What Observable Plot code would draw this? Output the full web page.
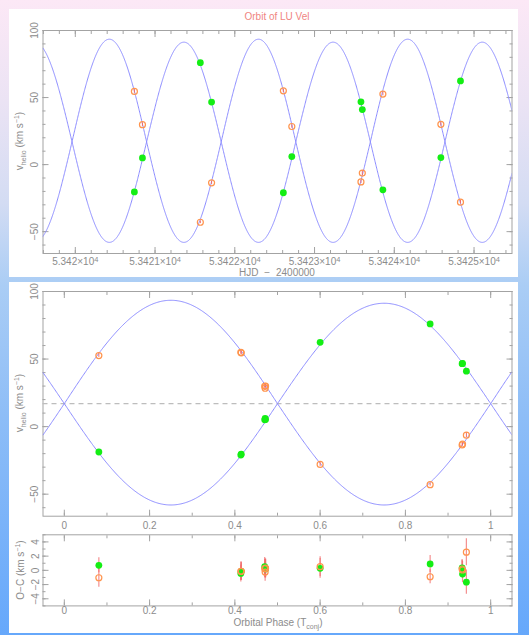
<!DOCTYPE html>
<html>
<head>
<meta charset="utf-8">
<script src="https://cdn.jsdelivr.net/npm/d3@7"></script>
<script src="https://cdn.jsdelivr.net/npm/@observablehq/plot@0.6"></script>
<style>
html,body{margin:0;padding:0;}
body{width:529px;height:635px;position:relative;overflow:hidden;
  background:linear-gradient(to bottom,#fce8f6 0%,#ebe3f4 16%,#d3dcf3 32%,#aacdf5 45%,#8dbdf7 66%,#66a8fb 100%);
  font-family:"Liberation Sans",Arial,sans-serif;}
.panel{position:absolute;background:#fff;}
.plot{position:absolute;left:0;}
.lbl{position:absolute;color:#8c8c8c;font-size:10px;white-space:nowrap;line-height:1;transform:translate(-50%,-50%);}
.rot{transform:translate(-50%,-50%) rotate(-90deg);}
sub,sup{font-size:7px;line-height:0;}
</style>
</head>
<body>
<div class="panel" style="left:9px;top:9px;width:509px;height:268px"></div>
<div class="panel" style="left:9px;top:282px;width:509px;height:351px"></div>
<div id="p1" class="plot" style="top:0px"></div>
<div id="p2" class="plot" style="top:283px"></div>
<div id="p3" class="plot" style="top:520px"></div>

<div class="lbl" style="left:277px;top:17px;color:#f0857f">Orbit of LU Vel</div>
<div class="lbl" style="left:277px;top:272.5px;word-spacing:3px">HJD − 2400000</div>
<div class="lbl rot" style="left:20px;top:141px">v<sub>helio</sub> (km s<sup>−1</sup>)</div>
<div class="lbl rot" style="left:20px;top:403px">v<sub>helio</sub> (km s<sup>−1</sup>)</div>
<div class="lbl rot" style="left:21px;top:570px">O−C (km s<sup>−1</sup>)</div>
<div class="lbl" style="left:278px;top:622.5px">Orbital Phase (T<sub>conj</sub>)</div>

<script>
const hjd      = [53420.741, 53420.842, 53421.568, 53421.709, 53422.609, 53422.715, 53423.582, 53423.599, 53423.857, 53424.584, 53424.830];
const phase    = [0.415, 0.470, 0.858, 0.933, 0.414, 0.471, 0.934, 0.943, 0.081, 0.472, 0.600];
const vOrange  = [54.6, 29.8, -43.0, -13.6, 55.0, 28.4, -12.9, -6.3, 52.6, 30.0, -28.0];
const vGreen   = [-20.4, 5.0, 76.0, 46.6, -21.0, 6.0, 46.8, 41.0, -18.8, 5.2, 62.4];
const ocOrange = [-0.14, 0.24, -0.90, 0.19, -0.14, -0.24, 0.05, 2.56, -1.04, 0.30, 0.52];
const ocGreen  = [-0.14, 0.52, 0.90, 0.34, -0.43, 0.30, -0.52, -1.66, 0.71, 0.20, 0.28];
const errOrange = [1.3, 1.3, 1.0, 1.2, 1.3, 1.3, 1.2, 1.9, 1.35, 1.3, 1.4];
const errGreen  = [1.2, 1.3, 1.2, 1.2, 1.2, 1.3, 1.2, 1.7, 1.05, 1.3, 1.4];

// ---- fitted orbit ----
const gamma = [17];
const period = [1.8705];
const tConj = [53419.959];
const ampOrange = [76.5, 75];   // toward maximum, toward minimum
const ampGreen  = [74.3, 75];

// ---- axes ----
const hjdDomain = [53419.595, 53425.476];
const vDomain = [-66.3, 100];
const phaseDomain = [-0.05, 1.05];
const ocDomain = [-5, 5];
const hjdMajor = [53420, 53421, 53422, 53423, 53424, 53425];
const vMajor = [-50, 0, 50, 100];
const phaseMajor = [0, 0.2, 0.4, 0.6, 0.8, 1];
const ocMajor = [-4, -2, 0, 2, 4];

const within = (arr, dom) => arr.filter(v => v >= dom[0] - 1e-9 && v <= dom[1] + 1e-9);
const hjdMinor = within(d3.range(53419.6, 53425.5, 0.2), hjdDomain);
const vMinor = within(d3.range(-60, 101, 10), vDomain);
const phaseMinor = within(d3.range(0, 1.06, 0.1), phaseDomain);
const ocMinor = within(d3.range(-5, 5.01, 1), ocDomain);

const obs = hjd.map((t, i) => ({t, ph: phase[i], vA: vOrange[i], vB: vGreen[i],
  oA: ocOrange[i], oB: ocGreen[i], eA: errOrange[i], eB: errGreen[i]}));

const model = (ph, amp, sign) => {
  const s = sign * Math.sin(2 * Math.PI * ph);
  return gamma[0] + s * (s >= 0 ? amp[0] : amp[1]);
};
const curveTop = d3.range(hjdDomain[0], hjdDomain[1] + 1e-9, 0.004).map(t => {
  const ph = (t - tConj[0]) / period[0];
  return {t, vA: model(ph, ampOrange, 1), vB: model(ph, ampGreen, -1)};
});
const curvePhase = d3.range(phaseDomain[0], phaseDomain[1] + 1e-9, 0.002).map(ph =>
  ({ph, vA: model(ph, ampOrange, 1), vB: model(ph, ampGreen, -1)}));

const W = 529;
const axisColor = "#a3a3a3";
const curveColor = "#8c8cff";
const orange = "#ff944d";
const green = "#14ee14";
const errColor = "#f06a6a";
const style = {background: "transparent", color: "#8c8c8c", fontFamily: "'Liberation Sans', Arial, sans-serif", fontSize: "10px", overflow: "visible"};

function boxAxes(o) {
  const blank = {stroke: axisColor, tickFormat: () => "", label: null, tickPadding: 0};
  return [
    Plot.frame({stroke: axisColor}),
    Plot.axisX({...blank, anchor: "bottom", ticks: o.xMajor, tickSize: -6}),
    Plot.axisX({...blank, anchor: "bottom", ticks: o.xMinor, tickSize: -3}),
    Plot.axisX({...blank, anchor: "top", ticks: o.xMajor, tickSize: -6}),
    Plot.axisX({...blank, anchor: "top", ticks: o.xMinor, tickSize: -3}),
    Plot.axisY({...blank, anchor: "left", ticks: o.yMajor, tickSize: -6}),
    Plot.axisY({...blank, anchor: "left", ticks: o.yMinor, tickSize: -3}),
    Plot.axisY({...blank, anchor: "right", ticks: o.yMajor, tickSize: -6}),
    Plot.axisY({...blank, anchor: "right", ticks: o.yMinor, tickSize: -3}),
    Plot.axisX({anchor: "bottom", ticks: o.xMajor, tickSize: 0, tickPadding: o.xPad, tickFormat: o.xFmt, label: null}),
    Plot.axisY({anchor: "left", ticks: o.yMajor, tickSize: 0, tickRotate: -90, tickPadding: o.yPad, tickFormat: o.yFmt, label: null})
  ];
}
const numFmt = d => (d < 0 ? "−" : "") + String(Math.abs(d));

// ---- top: velocities vs time ----
const p1 = Plot.plot({
  width: W, height: 278, marginTop: 30, marginBottom: 25, marginLeft: 42.5, marginRight: 17.5,
  style,
  x: {domain: hjdDomain}, y: {domain: vDomain},
  marks: [
    ...boxAxes({xMajor: hjdMajor, xMinor: hjdMinor, yMajor: vMajor, yMinor: vMinor,
      xFmt: d => String(d / 1e4) + "×10^4", yFmt: numFmt, xPad: 4, yPad: 5}),
    Plot.line(curveTop, {x: "t", y: "vA", stroke: curveColor, strokeWidth: 1, clip: true}),
    Plot.line(curveTop, {x: "t", y: "vB", stroke: curveColor, strokeWidth: 1, clip: true}),
    Plot.ruleX(obs, {x: "t", y1: d => d.vA - d.eA, y2: d => d.vA + d.eA, stroke: errColor}),
    Plot.dot(obs, {x: "t", y: "vB", r: 3.4, fill: green}),
    Plot.dot(obs, {x: "t", y: "vA", r: 3, stroke: orange, strokeWidth: 1.2, fill: "none"})
  ]
});
// render the exponent as a real superscript
d3.select(p1).selectAll("text").each(function () {
  const s = this.textContent;
  if (s.endsWith("^4")) {
    this.textContent = s.slice(0, -2);
    d3.select(this).append("tspan").attr("dy", "-0.4em").attr("font-size", "7.5px").text("4");
  }
});
document.getElementById("p1").append(p1);

// ---- middle: velocities vs phase ----
const p2 = Plot.plot({
  width: W, height: 251, marginTop: 8, marginBottom: 18.3, marginLeft: 42.5, marginRight: 17.5,
  style,
  x: {domain: phaseDomain}, y: {domain: vDomain},
  marks: [
    ...boxAxes({xMajor: phaseMajor, xMinor: phaseMinor, yMajor: vMajor, yMinor: vMinor,
      xFmt: d => String(d), yFmt: numFmt, xPad: 6, yPad: 5}),
    Plot.ruleY(gamma, {y: d => d, stroke: "#bdbdbd", strokeWidth: 1.4, strokeDasharray: "5,4"}),
    Plot.line(curvePhase, {x: "ph", y: "vA", stroke: curveColor, strokeWidth: 1, clip: true}),
    Plot.line(curvePhase, {x: "ph", y: "vB", stroke: curveColor, strokeWidth: 1, clip: true}),
    Plot.ruleX(obs, {x: "ph", y1: d => d.vA - d.eA, y2: d => d.vA + d.eA, stroke: errColor}),
    Plot.dot(obs, {x: "ph", y: "vB", r: 3.4, fill: green}),
    Plot.dot(obs, {x: "ph", y: "vA", r: 3, stroke: orange, strokeWidth: 1.2, fill: "none"})
  ]
});
document.getElementById("p2").append(p2);

// ---- bottom: O-C residuals ----
const p3 = Plot.plot({
  width: W, height: 98, marginTop: 14.3, marginBottom: 12.6, marginLeft: 42.5, marginRight: 17.5,
  style,
  x: {domain: phaseDomain}, y: {domain: ocDomain},
  marks: [
    ...boxAxes({xMajor: phaseMajor, xMinor: phaseMinor, yMajor: ocMajor, yMinor: ocMinor,
      xFmt: d => String(d), yFmt: numFmt, xPad: 1, yPad: 4}),
    Plot.ruleX(obs, {x: "ph", y1: d => d.oB - d.eB, y2: d => d.oB + d.eB, stroke: errColor, strokeOpacity: 0.75, strokeWidth: 1.2}),
    Plot.ruleX(obs, {x: "ph", y1: d => d.oA - d.eA, y2: d => d.oA + d.eA, stroke: errColor, strokeOpacity: 0.75, strokeWidth: 1.2}),
    Plot.dot(obs, {x: "ph", y: "oB", r: 3.4, fill: green}),
    Plot.dot(obs, {x: "ph", y: "oA", r: 3, stroke: orange, strokeWidth: 1.2, fill: "none"})
  ]
});
document.getElementById("p3").append(p3);
</script>
</body>
</html>
